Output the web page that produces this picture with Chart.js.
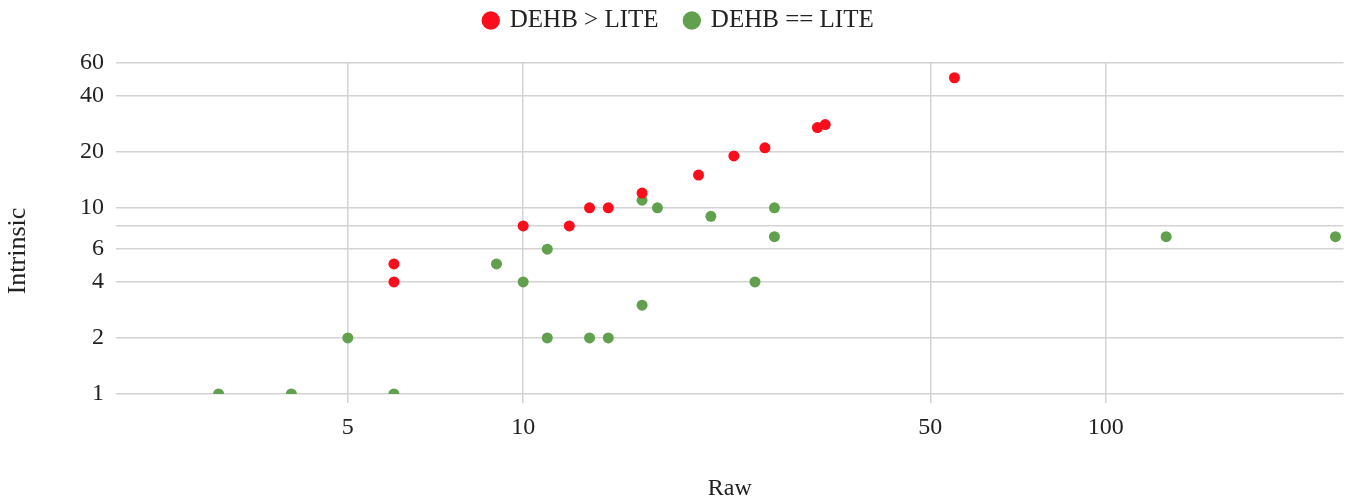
<!DOCTYPE html>
<html>
<head>
<meta charset="utf-8">
<script src="https://cdn.jsdelivr.net/npm/chart.js@4/dist/chart.umd.min.js"></script>
<style>
  html, body { margin: 0; padding: 0; background: #fff; }
  #wrap { width: 1349px; height: 502px; }
</style>
</head>
<body>
<div id="wrap"><canvas id="chart"></canvas></div>
<script>
// series: DEHB > LITE
const redX = [6, 6, 10, 12, 13, 14, 16, 20, 23, 26, 32, 33, 55];
const redY = [5, 4, 8, 8, 10, 10, 12, 15, 19, 21, 27, 28, 50];
// series: DEHB == LITE
const greenX = [3, 4, 5, 6, 9, 10, 11, 11, 13, 14, 16, 16, 17, 21, 25, 27, 27, 127, 248];
const greenY = [1, 1, 2, 1, 5, 4, 6, 2, 2, 2, 3, 11, 10, 9, 4, 10, 7, 7, 7];

const seriesNames = ["DEHB > LITE", "DEHB == LITE"];
const xTicks = [5, 10, 50, 100];
const yTicks = [1, 2, 4, 6, 8, 10, 20, 40, 60];
const yHidden = [8];
const xTitle = "Raw";
const yTitle = "Intrinsic";

const RED = "#fc0d1b";
const GREEN = "#61a04c";
const GRID = "#d3d3d3";
const TEXT = "#222";
const FONT = "'Liberation Serif', 'DejaVu Serif', serif";
const FONT_SIZE = 24;

function toPoints(xs, ys) {
  return xs.map((x, i) => ({ x: x, y: ys[i] }));
}

// extra room under the legend, and nudge it a bit right
const legendGap = {
  id: "legendGap",
  beforeInit(chart) {
    const fit = chart.legend.fit;
    chart.legend.fit = function () {
      fit.bind(chart.legend)();
      this.height += 20;
    };
  },
  afterLayout(chart) {
    chart.legend.left += 5;
    chart.legend.right += 5;
  }
};

// y title is centred on the whole canvas height, not the plot area
const yTitlePlugin = {
  id: "yTitlePlugin",
  afterDraw(chart) {
    const c = chart.ctx;
    c.save();
    c.translate(18, chart.height / 2);
    c.rotate(-Math.PI / 2);
    c.font = "26px " + FONT;
    c.fillStyle = TEXT;
    c.textAlign = "center";
    c.textBaseline = "middle";
    c.fillText(yTitle, 0, 0);
    c.restore();
  }
};

const ctx = document.getElementById("chart");

const chart = new Chart(ctx, {
  type: "scatter",
  data: {
    datasets: [
      {
        label: seriesNames[0],
        data: toPoints(redX, redY),
        backgroundColor: RED,
        borderWidth: 0,
        pointRadius: 5.5,
        pointHoverRadius: 5.5
      },
      {
        label: seriesNames[1],
        data: toPoints(greenX, greenY),
        backgroundColor: GREEN,
        borderWidth: 0,
        pointRadius: 5.5,
        pointHoverRadius: 5.5
      }
    ]
  },
  plugins: [legendGap, yTitlePlugin],
  options: {
    responsive: true,
    maintainAspectRatio: false,
    animation: false,
    layout: { padding: { top: 0, right: 1, bottom: 0, left: 0 } },
    plugins: {
      tooltip: { enabled: false },
      legend: {
        position: "top",
        labels: {
          usePointStyle: true,
          pointStyle: "circle",
          boxWidth: 13,
          boxHeight: 13,
          padding: 8,
          color: TEXT,
          font: { family: FONT, size: 25 },
          generateLabels: function (chart) {
            const items = Chart.defaults.plugins.legend.labels.generateLabels(chart);
            // widen the gap after the first entry
            items[0].text = items[0].text + "   ";
            return items;
          }
        }
      }
    },
    scales: {
      x: {
        type: "logarithmic",
        min: 2,
        max: 256,
        afterBuildTicks: function (scale) {
          scale.ticks = xTicks.map(v => ({ value: v }));
        },
        afterFit: function (scale) {
          scale.height = 108;
        },
        ticks: {
          autoSkip: false,
          maxRotation: 0,
          padding: 10,
          color: TEXT,
          font: { family: FONT, size: FONT_SIZE },
          callback: v => String(v)
        },
        grid: {
          color: GRID,
          lineWidth: 1.5,
          drawTicks: true,
          tickLength: 9
        },
        border: { display: false },
        title: {
          display: true,
          text: xTitle,
          color: TEXT,
          font: { family: FONT, size: FONT_SIZE, lineHeight: 1.1 },
          padding: { top: 0, bottom: 0 }
        }
      },
      y: {
        type: "logarithmic",
        min: 1,
        max: 60,
        afterBuildTicks: function (scale) {
          scale.ticks = yTicks.map(v => ({ value: v }));
        },
        afterFit: function (scale) {
          scale.width = 116;
        },
        ticks: {
          autoSkip: false,
          padding: 12,
          color: TEXT,
          font: { family: FONT, size: FONT_SIZE },
          callback: v => (yHidden.includes(v) ? "" : String(v))
        },
        grid: {
          color: GRID,
          lineWidth: 1.5,
          drawTicks: false
        },
        border: { display: false },
        title: { display: false }
      }
    }
  }
});
</script>
</body>
</html>
